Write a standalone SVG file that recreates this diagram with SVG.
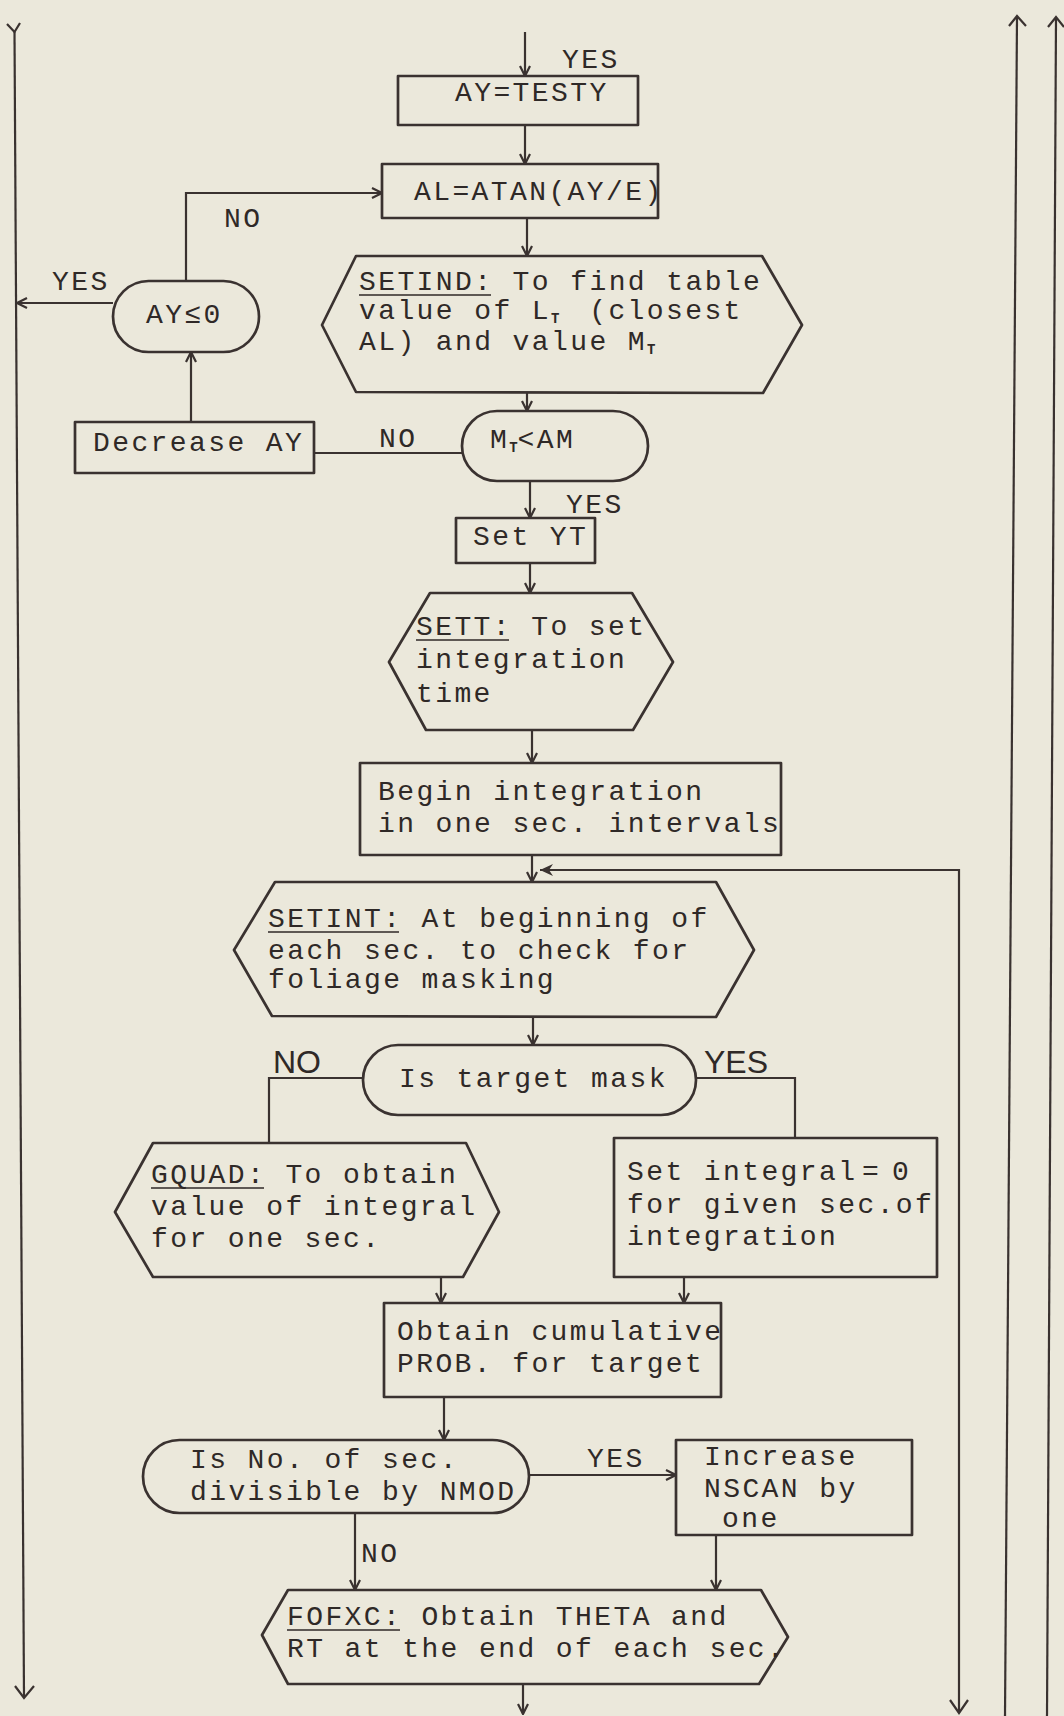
<svg xmlns="http://www.w3.org/2000/svg" width="1064" height="1716" viewBox="0 0 1064 1716">
<style>
.bg{fill:#ebe8db}
.sh{fill:none;stroke:#3a3230;stroke-width:2.7;stroke-linejoin:round}
.ln{fill:none;stroke:#3a3230;stroke-width:2.2}
.t{font-family:"Liberation Mono","DejaVu Sans Mono",monospace;font-size:28px;letter-spacing:2.4px;fill:#2f2927}
.s{font-family:"Liberation Sans",Arial,sans-serif;font-size:32px;fill:#2f2927}
.sub{font-size:14px;font-weight:bold;letter-spacing:0}
.ul{stroke:#2f2927;stroke-width:1.6}
</style>
<defs>
<marker id="arr" viewBox="0 0 12 12" refX="11" refY="6" markerWidth="12" markerHeight="12" markerUnits="userSpaceOnUse" orient="auto">
<path d="M1,1 L11,6 L1,11" fill="none" stroke="#3a3230" stroke-width="2.2"/>
</marker>
<marker id="arrf" viewBox="0 0 14 14" refX="13" refY="7" markerWidth="14" markerHeight="14" markerUnits="userSpaceOnUse" orient="auto">
<path d="M0,1 L13,7 L0,13 L4,7 z" fill="#3a3230"/>
</marker>
</defs>
<rect class="bg" x="0" y="0" width="1064" height="1716"/>

<g id="connectors">
<polyline class="ln" points="7,24 14.5,32 20,23"/>
<line class="ln" x1="14.5" y1="32" x2="24" y2="1697"/>
<polyline class="ln" points="15,1686 24,1698 34,1686"/>
<line class="ln" x1="1017" y1="17" x2="1005" y2="1716"/>
<polyline class="ln" points="1009,26 1017,16 1026,26"/>
<line class="ln" x1="1056" y1="18" x2="1047" y2="1716"/>
<polyline class="ln" points="1048,27 1056,17 1064,27"/>
<line class="ln" x1="525" y1="32" x2="525" y2="76" marker-end="url(#arr)"/>
<line class="ln" x1="525" y1="125" x2="525" y2="164" marker-end="url(#arr)"/>
<line class="ln" x1="527" y1="218" x2="527" y2="256" marker-end="url(#arr)"/>
<line class="ln" x1="527" y1="393" x2="527" y2="411" marker-end="url(#arr)"/>
<polyline class="ln" points="186,281 186,193 382,193" marker-end="url(#arr)"/>
<line class="ln" x1="113" y1="303" x2="17" y2="303" marker-end="url(#arr)"/>
<line class="ln" x1="191" y1="422" x2="191" y2="352" marker-end="url(#arr)"/>
<line class="ln" x1="462" y1="453" x2="314" y2="453"/>
<line class="ln" x1="530" y1="481" x2="530" y2="518" marker-end="url(#arr)"/>
<line class="ln" x1="530" y1="563" x2="530" y2="593" marker-end="url(#arr)"/>
<line class="ln" x1="532" y1="730" x2="532" y2="763" marker-end="url(#arr)"/>
<line class="ln" x1="532" y1="855" x2="532" y2="882" marker-end="url(#arr)"/>
<polyline class="ln" points="959,1713 959,870 540,870" marker-end="url(#arrf)"/>
<polyline class="ln" points="950,1700 959,1713 968,1700"/>
<line class="ln" x1="533" y1="1017" x2="533" y2="1045" marker-end="url(#arr)"/>
<polyline class="ln" points="363,1078 269,1078 269,1143"/>
<polyline class="ln" points="696,1078 795,1078 795,1138"/>
<line class="ln" x1="441" y1="1277" x2="441" y2="1303" marker-end="url(#arr)"/>
<line class="ln" x1="684" y1="1277" x2="684" y2="1303" marker-end="url(#arr)"/>
<line class="ln" x1="444" y1="1397" x2="444" y2="1440" marker-end="url(#arr)"/>
<line class="ln" x1="529" y1="1475" x2="676" y2="1475" marker-end="url(#arr)"/>
<line class="ln" x1="716" y1="1535" x2="716" y2="1590" marker-end="url(#arr)"/>
<line class="ln" x1="355" y1="1513" x2="355" y2="1590" marker-end="url(#arr)"/>
<line class="ln" x1="523" y1="1684" x2="523" y2="1714" marker-end="url(#arr)"/>
<text class="t" x="562" y="68">YES</text>
<text class="t" x="224" y="227">NO</text>
<text class="t" x="52" y="290">YES</text>
<text class="t" x="379" y="447">NO</text>
<text class="t" x="566" y="513">YES</text>
<text class="s" x="273" y="1073">NO</text>
<text class="s" x="704" y="1073">YES</text>
<text class="t" x="587" y="1467">YES</text>
<text class="t" x="361" y="1562">NO</text>
</g>

<g id="n_aytesty">
<rect class="sh" x="398" y="76" width="240" height="49"/>
<text class="t" x="455" y="101">AY=TESTY</text>
</g>

<g id="n_alatan">
<rect class="sh" x="382" y="164" width="276" height="54"/>
<text class="t" x="414" y="200">AL=ATAN(AY/E)</text>
</g>

<g id="n_setind">
<polygon class="sh" points="356,256 762,256 802,325 763,393 356,392 322,325"/>
<text class="t" x="359" y="290">SETIND: To find table</text>
<line class="ul" x1="359" y1="295" x2="491" y2="295"/>
<text class="t" x="359" y="319">value of L<tspan class="sub" dy="4">T</tspan><tspan x="570" dy="-4"> (closest</tspan></text>
<text class="t" x="359" y="350">AL) and value M<tspan class="sub" dy="4">T</tspan></text>
</g>

<g id="n_ayle0">
<rect class="sh" x="113" y="281" width="146" height="71" rx="35.5"/>
<text class="t" x="146" y="323">AY≤0</text>
</g>

<g id="n_decrease">
<rect class="sh" x="75" y="422" width="239" height="51"/>
<text class="t" x="93" y="451">Decrease AY</text>
</g>

<g id="n_mtam">
<rect class="sh" x="462" y="411" width="186" height="70" rx="35"/>
<text class="t" x="490" y="448">M<tspan class="sub" dy="4">T</tspan><tspan dy="-4">&lt;AM</tspan></text>
</g>

<g id="n_setyt">
<rect class="sh" x="456" y="518" width="139" height="45"/>
<text class="t" x="473" y="545">Set YT</text>
</g>

<g id="n_sett">
<polygon class="sh" points="430,593 632,593 673,662 633,730 426,730 389,662"/>
<text class="t" x="416" y="635">SETT: To set</text>
<line class="ul" x1="416" y1="640" x2="509" y2="640"/>
<text class="t" x="416" y="668">integration</text>
<text class="t" x="416" y="702">time</text>
</g>

<g id="n_begin">
<rect class="sh" x="360" y="763" width="421" height="92"/>
<text class="t" x="378" y="800">Begin integration</text>
<text class="t" x="378" y="832">in one sec. intervals</text>
</g>

<g id="n_setint">
<polygon class="sh" points="275,882 716,882 754,950 716,1017 272,1016 234,950"/>
<text class="t" x="268" y="927">SETINT: At beginning of</text>
<line class="ul" x1="268" y1="932" x2="399" y2="932"/>
<text class="t" x="268" y="959">each sec. to check for</text>
<text class="t" x="268" y="988">foliage masking</text>
</g>

<g id="n_mask">
<rect class="sh" x="363" y="1045" width="333" height="70" rx="35"/>
<text class="t" x="399" y="1087">Is target mask</text>
</g>

<g id="n_gquad">
<polygon class="sh" points="153,1143 466,1143 499,1212 463,1277 153,1277 115,1212"/>
<text class="t" x="151" y="1183">GQUAD: To obtain</text>
<line class="ul" x1="151" y1="1188" x2="264" y2="1188"/>
<text class="t" x="151" y="1215">value of integral</text>
<text class="t" x="151" y="1247">for one sec.</text>
</g>

<g id="n_setzero">
<rect class="sh" x="614" y="1138" width="323" height="139"/>
<text class="t" x="627" y="1180">Set integral<tspan x="862">=</tspan><tspan x="892">0</tspan></text>
<text class="t" x="627" y="1213">for given sec.of</text>
<text class="t" x="627" y="1245">integration</text>
</g>

<g id="n_obtain">
<rect class="sh" x="384" y="1303" width="337" height="94"/>
<text class="t" x="397" y="1340">Obtain cumulative</text>
<text class="t" x="397" y="1372">PROB. for target</text>
</g>

<g id="n_nmod">
<rect class="sh" x="143" y="1440" width="386" height="73" rx="36.5"/>
<text class="t" x="190" y="1468">Is No. of sec.</text>
<text class="t" x="190" y="1500">divisible by NMOD</text>
</g>

<g id="n_nscan">
<rect class="sh" x="676" y="1440" width="236" height="95"/>
<text class="t" x="704" y="1465">Increase</text>
<text class="t" x="704" y="1497">NSCAN by</text>
<text class="t" x="722" y="1527">one</text>
</g>

<g id="n_fofxc">
<polygon class="sh" points="288,1590 761,1590 788,1637 759,1684 288,1684 262,1635"/>
<text class="t" x="287" y="1625">FOFXC: Obtain THETA and</text>
<line class="ul" x1="287" y1="1630" x2="400" y2="1630"/>
<text class="t" x="287" y="1657">RT at the end of each sec.</text>
</g>
</svg>
